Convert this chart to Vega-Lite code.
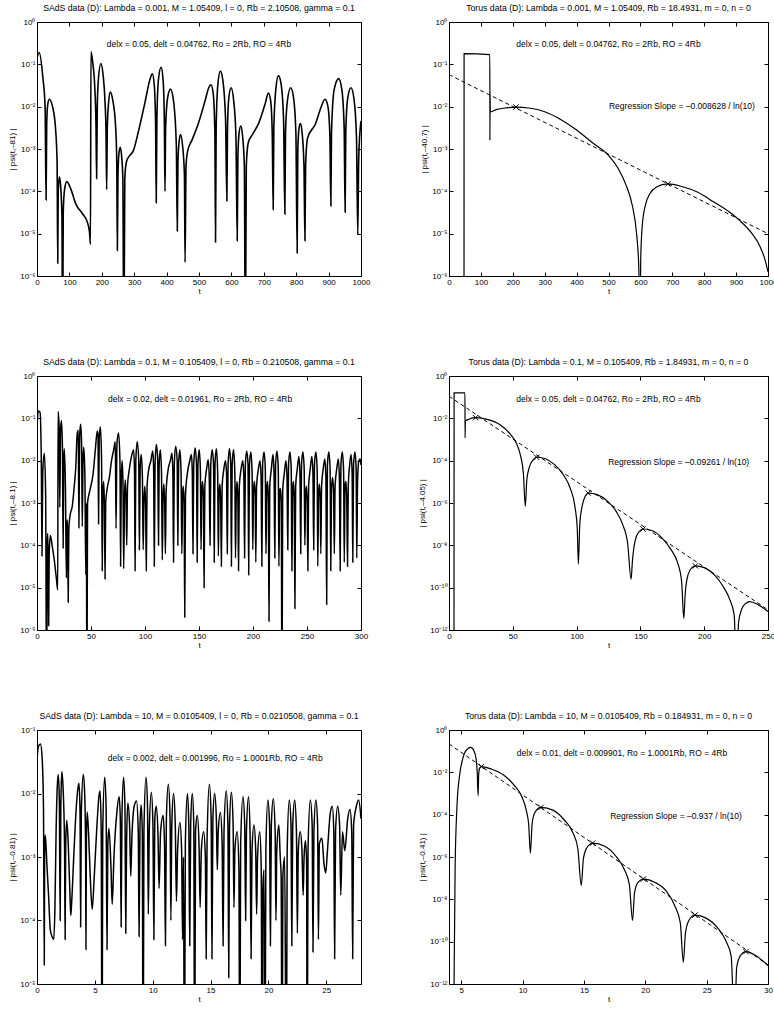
{
"$schema": "https://vega.github.io/schema/vega-lite/v6.json",
"padding": {"left": 8, "top": 3, "right": 0, "bottom": 0},
"config": {
  "font": "Liberation Sans",
  "view": {"stroke": "black", "strokeWidth": 1},
  "axis": {"domainColor": "black", "tickColor": "black", "labelColor": "black", "titleColor": "black", "labelFontSize": 8, "titleFontSize": 8, "titleFontWeight": "normal", "grid": false, "tickSize": -4, "labelPadding": 6, "labelFont": "Liberation Sans", "titleFont": "Liberation Sans", "labelFlush": false},
  "axisX": {"titlePadding": 1},
  "axisY": {"titlePadding": 3},
  "title": {"fontSize": 8.7, "fontWeight": "normal", "color": "black", "offset": 5, "font": "Liberation Sans"},
  "text": {"font": "Liberation Sans", "fontSize": 8.5, "color": "black"}
},
"bounds": "flush",
"columns": 2,
"spacing": {"row": 100, "column": 88},
"concat": [
{
 "width": 324, "height": 254,
 "title": "SAdS data (D): Lambda = 0.001, M = 1.05409, l = 0, Rb = 2.10508, gamma = 0.1",
 "layer": [
  {"data": {"values": [{"t":0,"v":0.14},{"t":7,"v":0.19},{"t":18,"v":0.05},{"t":25,"v":0.01},{"t":28,"v":6.3e-5},{"t":30,"v":4e-3},{"t":33,"v":0.011},{"t":38,"v":0.015},{"t":48,"v":0.01},{"t":57,"v":3.2e-3},{"t":62,"v":5e-4},{"t":64,"v":2e-6},{"t":65.5,"v":1e-4},{"t":69,"v":2.2e-4},{"t":73,"v":1.3e-4},{"t":77,"v":2.5e-5},{"t":79,"v":1e-8},{"t":81,"v":3.2e-5},{"t":85,"v":1.1e-4},{"t":92,"v":1.7e-4},{"t":105,"v":1.1e-4},{"t":120,"v":5e-5},{"t":140,"v":3e-5},{"t":155,"v":1.9e-5},{"t":162,"v":1.1e-5},{"t":165,"v":5.6e-6},{"t":166.5,"v":0.2},{"t":172,"v":0.11},{"t":178,"v":0.032},{"t":182,"v":4e-3},{"t":184,"v":2e-4},{"t":186,"v":0.01},{"t":190,"v":0.05},{"t":197,"v":0.105},{"t":204,"v":0.056},{"t":210,"v":0.0126},{"t":213,"v":2.5e-3},{"t":215,"v":1.1e-4},{"t":217,"v":3.2e-3},{"t":221,"v":0.0126},{"t":226,"v":0.022},{"t":234,"v":0.014},{"t":242,"v":4e-3},{"t":246,"v":6.3e-4},{"t":248,"v":4e-6},{"t":250,"v":2.5e-4},{"t":253,"v":8e-4},{"t":257,"v":1.1e-3},{"t":261,"v":7e-4},{"t":265,"v":2e-4},{"t":268,"v":1e-8},{"t":271,"v":2e-4},{"t":276,"v":5e-4},{"t":286,"v":7e-4},{"t":297,"v":9e-4},{"t":312,"v":2.4e-3},{"t":333,"v":0.0123},{"t":349,"v":0.045},{"t":356,"v":0.06},{"t":362,"v":0.032},{"t":366,"v":4e-3},{"t":368,"v":5.4e-5},{"t":370,"v":5e-3},{"t":375,"v":0.045},{"t":383,"v":0.085},{"t":389,"v":0.045},{"t":393,"v":5e-3},{"t":395,"v":1e-4},{"t":397,"v":3.2e-3},{"t":403,"v":0.016},{"t":412,"v":0.026},{"t":422,"v":0.0126},{"t":430,"v":1.26e-3},{"t":433,"v":1.15e-5},{"t":435,"v":5e-4},{"t":439,"v":1.6e-3},{"t":443,"v":2.2e-3},{"t":449,"v":1.26e-3},{"t":455,"v":2.5e-4},{"t":457,"v":2.1e-6},{"t":460,"v":4e-4},{"t":465,"v":9e-4},{"t":478,"v":1.6e-3},{"t":498,"v":4e-3},{"t":519,"v":0.014},{"t":530,"v":0.028},{"t":537,"v":0.033},{"t":544,"v":0.02},{"t":549,"v":2.5e-3},{"t":551,"v":6.3e-6},{"t":553,"v":3.2e-3},{"t":558,"v":0.032},{"t":566,"v":0.069},{"t":574,"v":0.04},{"t":582,"v":5e-3},{"t":586,"v":5.9e-5},{"t":588,"v":3.2e-3},{"t":592,"v":0.016},{"t":599,"v":0.028},{"t":607,"v":0.014},{"t":614,"v":2e-3},{"t":618,"v":6.8e-6},{"t":620,"v":6.3e-4},{"t":624,"v":2.5e-3},{"t":629,"v":3.5e-3},{"t":634,"v":2.2e-3},{"t":640,"v":4e-4},{"t":643,"v":1e-8},{"t":646,"v":4e-4},{"t":652,"v":1.4e-3},{"t":665,"v":2.2e-3},{"t":685,"v":4.2e-3},{"t":705,"v":0.0123},{"t":714,"v":0.021},{"t":721,"v":0.014},{"t":726,"v":2.5e-3},{"t":729,"v":3.7e-5},{"t":731,"v":3.2e-3},{"t":737,"v":0.025},{"t":745,"v":0.054},{"t":754,"v":0.032},{"t":761,"v":5e-3},{"t":765,"v":2.9e-5},{"t":767,"v":2.5e-3},{"t":773,"v":0.014},{"t":783,"v":0.028},{"t":792,"v":0.016},{"t":799,"v":2.5e-3},{"t":803,"v":3.5e-6},{"t":805,"v":1e-3},{"t":809,"v":3.2e-3},{"t":813,"v":4e-3},{"t":818,"v":2.5e-3},{"t":824,"v":4e-4},{"t":827,"v":6.8e-6},{"t":829,"v":4e-4},{"t":835,"v":1.8e-3},{"t":860,"v":4e-3},{"t":875,"v":8.9e-3},{"t":889,"v":0.015},{"t":898,"v":0.01},{"t":904,"v":2e-3},{"t":907,"v":4.5e-5},{"t":909,"v":2.5e-3},{"t":917,"v":0.025},{"t":931,"v":0.046},{"t":941,"v":0.025},{"t":948,"v":3.2e-3},{"t":951,"v":3.2e-5},{"t":953,"v":2.5e-3},{"t":959,"v":0.016},{"t":969,"v":0.028},{"t":978,"v":0.016},{"t":986,"v":2e-3},{"t":990,"v":9.5e-6},{"t":993,"v":6.3e-4},{"t":1000,"v":4.6e-3}]},
   "mark": {"type": "line", "color": "black", "strokeWidth": 1.6, "interpolate": "monotone", "clip": true},
   "encoding": {
    "x": {"field": "t", "type": "quantitative", "scale": {"domain": [0, 1000], "nice": false, "zero": false}, "axis": {"values": [0,100,200,300,400,500,600,700,800,900,1000], "format": "d", "title": "t"}},
    "y": {"field": "v", "type": "quantitative", "scale": {"type": "log", "domain": [1e-6, 1], "nice": false}, "axis": {"values": [1e-6,1e-5,1e-4,1e-3,1e-2,1e-1,1], "labelExpr": "'10' + (datum.value < 0.9 ? '⁻' : '') + (datum.value < 1e-9 ? '¹' : '') + substring('⁰¹²³⁴⁵⁶⁷⁸⁹', round(-log(datum.value)/LN10) % 10, round(-log(datum.value)/LN10) % 10 + 1)", "title": "| psi(t,–81) |"}}
   }},
  {"data": {"values": [{"t": 500, "v": 0.3, "s": "delx = 0.05, delt = 0.04762, Ro = 2Rb, RO = 4Rb"}]},
   "mark": {"type": "text"},
   "encoding": {
    "x": {"field": "t", "type": "quantitative", "scale": {"domain": [0, 1000], "nice": false, "zero": false}, "axis": {"orient": "top", "values": [0,100,200,300,400,500,600,700,800,900,1000], "labels": false, "title": null, "domain": false}},
    "y": {"field": "v", "type": "quantitative", "scale": {"type": "log", "domain": [1e-6, 1], "nice": false}, "axis": {"orient": "right", "values": [1e-6,1e-5,1e-4,1e-3,1e-2,1e-1,1], "labels": false, "title": null, "domain": false}},
    "text": {"field": "s"}
   }}
 ],
 "resolve": {"axis": {"x": "independent", "y": "independent"}}
},
{
 "width": 319, "height": 254,
 "title": "Torus data (D): Lambda = 0.001, M = 1.05409, Rb = 18.4931, m = 0, n = 0",
 "layer": [
  {"data": {"values": [{"t":47,"v":1e-8},{"t":47.3,"v":0.18},{"t":128,"v":0.17},{"t":128.3,"v":1.6e-3},{"t":128.7,"v":0.022},{"t":129.5,"v":7.5e-3},{"t":150,"v":8.6e-3},{"t":180,"v":9.4e-3},{"t":210,"v":9.8e-3},{"t":250,"v":9.3e-3},{"t":300,"v":7.6e-3},{"t":350,"v":5e-3},{"t":400,"v":2.8e-3},{"t":450,"v":1.4e-3},{"t":500,"v":7.1e-4},{"t":530,"v":3.5e-4},{"t":555,"v":1.4e-4},{"t":575,"v":4.5e-5},{"t":588,"v":1e-5},{"t":595,"v":1.6e-6},{"t":598,"v":1e-8},{"t":601,"v":2.5e-6},{"t":606,"v":1.6e-5},{"t":615,"v":4.5e-5},{"t":630,"v":8.9e-5},{"t":650,"v":1.26e-4},{"t":686,"v":1.5e-4},{"t":730,"v":1.3e-4},{"t":780,"v":9.5e-5},{"t":830,"v":5.6e-5},{"t":880,"v":3.2e-5},{"t":913,"v":2e-5},{"t":950,"v":1e-5},{"t":975,"v":5e-6},{"t":990,"v":2.5e-6},{"t":1000,"v":1.26e-6}]},
   "mark": {"type": "line", "color": "black", "strokeWidth": 1.2, "interpolate": "monotone", "clip": true},
   "encoding": {
    "x": {"field": "t", "type": "quantitative", "scale": {"domain": [0, 1000], "nice": false, "zero": false}, "axis": {"values": [0,100,200,300,400,500,600,700,800,900,1000], "format": "d", "title": "t"}},
    "y": {"field": "v", "type": "quantitative", "scale": {"type": "log", "domain": [1e-6, 1], "nice": false}, "axis": {"values": [1e-6,1e-5,1e-4,1e-3,1e-2,1e-1,1], "labelExpr": "'10' + (datum.value < 0.9 ? '⁻' : '') + (datum.value < 1e-9 ? '¹' : '') + substring('⁰¹²³⁴⁵⁶⁷⁸⁹', round(-log(datum.value)/LN10) % 10, round(-log(datum.value)/LN10) % 10 + 1)", "title": "| psi(t,–40.7) |"}}
   }},
  {"data": {"values": [{"t":0,"v":0.057},{"t":1000,"v":1e-5}]},
   "mark": {"type": "line", "color": "black", "strokeWidth": 1, "strokeDash": [4, 3], "clip": true},
   "encoding": {
    "x": {"field": "t", "type": "quantitative", "scale": {"domain": [0, 1000], "nice": false, "zero": false}, "axis": null},
    "y": {"field": "v", "type": "quantitative", "scale": {"type": "log", "domain": [1e-6, 1], "nice": false}, "axis": null}
   }},
  {"data": {"values": [{"t":210,"v":9.8e-3},{"t":686,"v":1.5e-4}]},
   "mark": {"type": "point", "shape": "M-1,-1L1,1M-1,1L1,-1", "size": 30, "filled": false, "color": "black", "strokeWidth": 1, "opacity": 1},
   "encoding": {
    "x": {"field": "t", "type": "quantitative", "scale": {"domain": [0, 1000], "nice": false, "zero": false}, "axis": null},
    "y": {"field": "v", "type": "quantitative", "scale": {"type": "log", "domain": [1e-6, 1], "nice": false}, "axis": null}
   }},
  {"data": {"values": [{"t": 500, "v": 0.3, "s": "delx = 0.05, delt = 0.04762, Ro = 2Rb, RO = 4Rb"},{"t": 730, "v": 0.0102, "s": "Regression Slope = –0.008628 / ln(10)"}]},
   "mark": {"type": "text"},
   "encoding": {
    "x": {"field": "t", "type": "quantitative", "scale": {"domain": [0, 1000], "nice": false, "zero": false}, "axis": {"orient": "top", "values": [0,100,200,300,400,500,600,700,800,900,1000], "labels": false, "title": null, "domain": false}},
    "y": {"field": "v", "type": "quantitative", "scale": {"type": "log", "domain": [1e-6, 1], "nice": false}, "axis": {"orient": "right", "values": [1e-6,1e-5,1e-4,1e-3,1e-2,1e-1,1], "labels": false, "title": null, "domain": false}},
    "text": {"field": "s"}
   }}
 ],
 "resolve": {"axis": {"x": "independent", "y": "independent"}}
},
{
 "width": 324, "height": 254,
 "title": "SAdS data (D): Lambda = 0.1, M = 0.105409, l = 0, Rb = 0.210508, gamma = 0.1",
 "layer": [
  {"data": {"values": [{"t":0,"v":6.3e-2},{"t":1.2,"v":0.15},{"t":2.8,"v":0.14},{"t":4.0,"v":1e-2},{"t":4.6,"v":5.6e-5},{"t":5.3,"v":5e-3},{"t":6.8,"v":1.5e-2},{"t":8.0,"v":1.6e-3},{"t":8.9,"v":1e-8},{"t":9.5,"v":1e-4},{"t":9.9,"v":1.9e-4},{"t":10.4,"v":4e-5},{"t":10.8,"v":1.26e-6},{"t":11.3,"v":6.3e-5},{"t":12.4,"v":1.7e-4},{"t":14,"v":1e-4},{"t":16,"v":4.5e-5},{"t":18,"v":1.6e-5},{"t":19.2,"v":8.9e-6},{"t":19.5,"v":0.145},{"t":20.5,"v":6.3e-2},{"t":21.1,"v":7.9e-4},{"t":21.8,"v":5e-2},{"t":22.6,"v":8.9e-2},{"t":23.5,"v":2.5e-2},{"t":24.2,"v":8.7e-5},{"t":24.7,"v":1e-2},{"t":25.3,"v":1.9e-2},{"t":26.3,"v":2.5e-3},{"t":27.2,"v":1.7e-5},{"t":27.8,"v":4e-4},{"t":28.3,"v":2.5e-4},{"t":28.9,"v":4.5e-6},{"t":29.5,"v":2.5e-4},{"t":30.6,"v":5e-4},{"t":32.7,"v":8.5e-4},{"t":34.5,"v":2.5e-3},{"t":35.8,"v":6.3e-3},{"t":37.3,"v":4.5e-2},{"t":38.2,"v":5.2e-2},{"t":38.8,"v":2.6e-4},{"t":39.5,"v":4e-2},{"t":40.4,"v":7.2e-2},{"t":41.3,"v":2.5e-2},{"t":41.9,"v":2.8e-4},{"t":42.6,"v":1e-2},{"t":43.3,"v":2.1e-2},{"t":44.3,"v":5e-3},{"t":45.2,"v":2e-5},{"t":45.7,"v":1e-3},{"t":46.2,"v":1e-8},{"t":46.8,"v":1e-3},{"t":49,"v":2e-3},{"t":52,"v":5e-3},{"t":54,"v":1.8e-2},{"t":55.8,"v":5e-2},{"t":56.5,"v":4e-2},{"t":57.0,"v":3.2e-4},{"t":57.6,"v":3.2e-2},{"t":58.7,"v":6.3e-2},{"t":59.8,"v":1e-2},{"t":60.4,"v":2.5e-5},{"t":61.0,"v":1.6e-3},{"t":61.7,"v":3.2e-3},{"t":62.4,"v":1e-3},{"t":63.0,"v":1.6e-5},{"t":63.6,"v":1e-3},{"t":65,"v":2.2e-3},{"t":67,"v":4e-3},{"t":69,"v":1e-2},{"t":71,"v":1.8e-2},{"t":72.5,"v":2.8e-2},{"t":73.2,"v":2.5e-4},{"t":74,"v":2.5e-2},{"t":75.5,"v":4.5e-2},{"t":76.8,"v":1e-2},{"t":77.4,"v":3.2e-5},{"t":78.0,"v":3.2e-3},{"t":78.8,"v":1e-2},{"t":79.6,"v":3.2e-3},{"t":80.3,"v":2.8e-5},{"t":81,"v":1.26e-3},{"t":81.7,"v":3.5e-3},{"t":82.5,"v":1e-3},{"t":83.1,"v":1e-4},{"t":83.8,"v":2.5e-3},{"t":85.5,"v":6.3e-3},{"t":87.5,"v":1.26e-2},{"t":89.5,"v":1.8e-2},{"t":90.3,"v":5e-3},{"t":90.8,"v":2.5e-5},{"t":91.5,"v":1e-2},{"t":92.8,"v":2.8e-2},{"t":94.2,"v":1e-2},{"t":94.8,"v":7.9e-5},{"t":95.5,"v":6.3e-3},{"t":96.5,"v":1.4e-2},{"t":97.6,"v":4e-3},{"t":98.3,"v":7.9e-5},{"t":99.0,"v":1e-3},{"t":99.8,"v":2.5e-3},{"t":100.6,"v":7.9e-4},{"t":101.2,"v":2.5e-5},{"t":101.9,"v":2.5e-3},{"t":103.5,"v":6.3e-3},{"t":105.5,"v":1e-2},{"t":107.2,"v":1.7e-2},{"t":108.0,"v":6.3e-3},{"t":108.6,"v":3.2e-5},{"t":109.3,"v":7.9e-3},{"t":110.5,"v":2.4e-2},{"t":111.8,"v":1e-2},{"t":112.5,"v":1e-4},{"t":113.1,"v":7.9e-3},{"t":114.2,"v":1.8e-2},{"t":115.3,"v":5e-3},{"t":116.0,"v":4.5e-5},{"t":116.7,"v":1.26e-3},{"t":117.4,"v":2.8e-3},{"t":118.2,"v":1e-3},{"t":118.9,"v":6.3e-5},{"t":119.6,"v":2e-3},{"t":121.5,"v":6.3e-3},{"t":123.5,"v":1e-2},{"t":125,"v":1.5e-2},{"t":125.8,"v":5e-3},{"t":126.4,"v":4e-5},{"t":127.1,"v":7.9e-3},{"t":128.4,"v":2.2e-2},{"t":129.8,"v":1e-2},{"t":130.4,"v":1e-4},{"t":131.1,"v":7.9e-3},{"t":132.3,"v":1.8e-2},{"t":133.4,"v":5e-3},{"t":134.1,"v":6.3e-5},{"t":134.8,"v":1.6e-3},{"t":135.4,"v":2.5e-3},{"t":136.2,"v":1e-3},{"t":136.8,"v":2e-6},{"t":137.5,"v":1.6e-3},{"t":139.5,"v":5.6e-3},{"t":141.5,"v":1e-2},{"t":143,"v":1.4e-2},{"t":143.8,"v":5e-3},{"t":144.4,"v":6.3e-5},{"t":145.1,"v":7.9e-3},{"t":146.4,"v":2e-2},{"t":147.7,"v":7.9e-3},{"t":148.3,"v":4e-5},{"t":149.0,"v":7.9e-3},{"t":150.2,"v":1.8e-2},{"t":151.3,"v":5.6e-3},{"t":151.9,"v":7.9e-5},{"t":152.6,"v":2e-3},{"t":153.3,"v":3.2e-3},{"t":154.1,"v":1.26e-3},{"t":154.7,"v":1e-5},{"t":155.4,"v":2.5e-3},{"t":157,"v":6.3e-3},{"t":158.5,"v":1.05e-2},{"t":159.5,"v":4e-3},{"t":160.2,"v":1e-4},{"t":160.9,"v":7.9e-3},{"t":162.2,"v":1.8e-2},{"t":163.5,"v":7.9e-3},{"t":164.1,"v":4e-5},{"t":164.8,"v":7.9e-3},{"t":166.1,"v":1.9e-2},{"t":167.3,"v":5e-3},{"t":167.9,"v":5.6e-5},{"t":168.6,"v":1.6e-3},{"t":169.3,"v":2.8e-3},{"t":170.1,"v":1e-3},{"t":170.7,"v":3.2e-5},{"t":171.4,"v":2.5e-3},{"t":173,"v":6.3e-3},{"t":174.5,"v":1e-2},{"t":175.5,"v":5e-3},{"t":176.2,"v":6.3e-5},{"t":176.9,"v":7.9e-3},{"t":178.2,"v":1.9e-2},{"t":179.4,"v":7.9e-3},{"t":180.0,"v":3.2e-5},{"t":180.7,"v":7.9e-3},{"t":182.0,"v":1.8e-2},{"t":183.2,"v":5e-3},{"t":183.8,"v":5e-5},{"t":184.5,"v":1.6e-3},{"t":185.2,"v":3.2e-3},{"t":186.0,"v":1.26e-3},{"t":186.6,"v":2.5e-5},{"t":187.3,"v":2.5e-3},{"t":189,"v":6.3e-3},{"t":190.5,"v":1e-2},{"t":191.5,"v":4.5e-3},{"t":192.2,"v":5e-5},{"t":192.9,"v":7.9e-3},{"t":194.2,"v":1.7e-2},{"t":195.4,"v":7.9e-3},{"t":196.0,"v":2e-5},{"t":196.7,"v":7.9e-3},{"t":198.0,"v":1.6e-2},{"t":199.2,"v":5e-3},{"t":199.8,"v":7.9e-5},{"t":200.5,"v":2e-3},{"t":201.3,"v":3.2e-3},{"t":202.0,"v":1.6e-3},{"t":202.6,"v":4e-5},{"t":203.3,"v":2.5e-3},{"t":205,"v":6.3e-3},{"t":206.5,"v":1e-2},{"t":207.5,"v":4e-3},{"t":208.2,"v":3.2e-5},{"t":208.9,"v":7.9e-3},{"t":210.2,"v":1.6e-2},{"t":211.4,"v":6.3e-3},{"t":212.0,"v":6.3e-5},{"t":212.7,"v":2e-3},{"t":213.4,"v":3.2e-3},{"t":214.2,"v":1.26e-3},{"t":214.8,"v":1.6e-6},{"t":215.5,"v":2.5e-3},{"t":217,"v":6.3e-3},{"t":218.5,"v":1.4e-2},{"t":219.5,"v":5e-3},{"t":220.2,"v":5e-5},{"t":220.9,"v":7.9e-3},{"t":222.2,"v":1.7e-2},{"t":223.4,"v":6.3e-3},{"t":224.0,"v":3.2e-5},{"t":224.7,"v":2e-3},{"t":225.4,"v":2.2e-3},{"t":226.2,"v":1e-3},{"t":226.8,"v":1e-8},{"t":227.5,"v":2e-3},{"t":229,"v":5e-3},{"t":230.5,"v":1e-2},{"t":231.5,"v":4e-3},{"t":232.2,"v":7.9e-5},{"t":232.9,"v":7.9e-3},{"t":234.2,"v":1.6e-2},{"t":235.4,"v":6.3e-3},{"t":236.0,"v":2.5e-5},{"t":236.7,"v":2e-3},{"t":237.4,"v":3.2e-3},{"t":238.2,"v":1.26e-3},{"t":238.8,"v":3.2e-6},{"t":239.5,"v":2.5e-3},{"t":241,"v":6.3e-3},{"t":242.5,"v":1.26e-2},{"t":243.5,"v":4.5e-3},{"t":244.2,"v":6.3e-5},{"t":244.9,"v":7.9e-3},{"t":246.2,"v":1.6e-2},{"t":247.4,"v":6.3e-3},{"t":248.0,"v":1e-4},{"t":248.7,"v":1.6e-3},{"t":249.4,"v":2.5e-3},{"t":250.2,"v":1e-3},{"t":250.8,"v":2.5e-5},{"t":251.5,"v":2.5e-3},{"t":253,"v":6.3e-3},{"t":254.5,"v":1.26e-2},{"t":255.5,"v":5e-3},{"t":256.2,"v":7.9e-5},{"t":256.9,"v":7.9e-3},{"t":258.2,"v":1.6e-2},{"t":259.4,"v":6.3e-3},{"t":260.0,"v":3.2e-5},{"t":260.7,"v":1.6e-3},{"t":261.4,"v":2.8e-3},{"t":262.2,"v":1.26e-3},{"t":262.8,"v":6.3e-5},{"t":263.5,"v":2.5e-3},{"t":265,"v":6.3e-3},{"t":266.5,"v":1.1e-2},{"t":267.5,"v":4e-3},{"t":268.2,"v":4e-6},{"t":268.9,"v":7.9e-3},{"t":270.2,"v":1.6e-2},{"t":271.4,"v":6.3e-3},{"t":272.0,"v":2.5e-5},{"t":272.7,"v":2e-3},{"t":273.6,"v":4e-3},{"t":274.6,"v":2e-3},{"t":275.3,"v":6.3e-5},{"t":276.0,"v":2.5e-3},{"t":277.5,"v":6.3e-3},{"t":279,"v":1.1e-2},{"t":280,"v":4e-3},{"t":280.7,"v":2.5e-5},{"t":281.4,"v":7.9e-3},{"t":282.7,"v":1.6e-2},{"t":283.9,"v":5.6e-3},{"t":284.5,"v":4e-5},{"t":285.2,"v":2.5e-3},{"t":286.0,"v":3.2e-3},{"t":286.8,"v":1.26e-3},{"t":287.5,"v":3.2e-5},{"t":288.2,"v":2.5e-3},{"t":289.5,"v":7.9e-3},{"t":290.8,"v":1.4e-2},{"t":291.8,"v":5e-3},{"t":292.4,"v":4e-5},{"t":293.1,"v":7.9e-3},{"t":294.4,"v":1.6e-2},{"t":295.5,"v":6.3e-3},{"t":296.1,"v":5e-5},{"t":296.8,"v":3.2e-3},{"t":298,"v":1e-2},{"t":299.2,"v":1.1e-2},{"t":300,"v":7.9e-3}]},
   "mark": {"type": "line", "color": "black", "strokeWidth": 1.5, "interpolate": "monotone", "clip": true},
   "encoding": {
    "x": {"field": "t", "type": "quantitative", "scale": {"domain": [0, 300], "nice": false, "zero": false}, "axis": {"values": [0,50,100,150,200,250,300], "format": "d", "title": "t"}},
    "y": {"field": "v", "type": "quantitative", "scale": {"type": "log", "domain": [1e-6, 1], "nice": false}, "axis": {"values": [1e-6,1e-5,1e-4,1e-3,1e-2,1e-1,1], "labelExpr": "'10' + (datum.value < 0.9 ? '⁻' : '') + (datum.value < 1e-9 ? '¹' : '') + substring('⁰¹²³⁴⁵⁶⁷⁸⁹', round(-log(datum.value)/LN10) % 10, round(-log(datum.value)/LN10) % 10 + 1)", "title": "| psi(t,–8.1) |"}}
   }},
  {"data": {"values": [{"t": 151, "v": 0.28, "s": "delx = 0.02, delt = 0.01961, Ro = 2Rb, RO = 4Rb"}]},
   "mark": {"type": "text"},
   "encoding": {
    "x": {"field": "t", "type": "quantitative", "scale": {"domain": [0, 300], "nice": false, "zero": false}, "axis": {"orient": "top", "values": [0,50,100,150,200,250,300], "labels": false, "title": null, "domain": false}},
    "y": {"field": "v", "type": "quantitative", "scale": {"type": "log", "domain": [1e-6, 1], "nice": false}, "axis": {"orient": "right", "values": [1e-6,1e-5,1e-4,1e-3,1e-2,1e-1,1], "labels": false, "title": null, "domain": false}},
    "text": {"field": "s"}
   }}
 ],
 "resolve": {"axis": {"x": "independent", "y": "independent"}}
},
{
 "width": 319, "height": 254,
 "title": "Torus data (D): Lambda = 0.1, M = 0.105409, Rb = 1.84931, m = 0, n = 0",
 "layer": [
  {"data": {"values": [{"t":3.9,"v":1e-14},{"t":4.0,"v":0.16},{"t":12.5,"v":0.16},{"t":12.6,"v":1.2e-3},{"t":12.8,"v":7.4e-3},{"t":16,"v":9.3e-3},{"t":20.8,"v":0.0107},{"t":30,"v":8.9e-3},{"t":40,"v":5e-3},{"t":48,"v":1.8e-3},{"t":53,"v":6.3e-4},{"t":56,"v":1.8e-4},{"t":58.3,"v":2.5e-5},{"t":59.8,"v":6.9e-7},{"t":61,"v":1.26e-5},{"t":63,"v":5e-5},{"t":66,"v":1.1e-4},{"t":68.6,"v":1.45e-4},{"t":75,"v":1.26e-4},{"t":83,"v":6.3e-5},{"t":90,"v":2e-5},{"t":95,"v":5e-6},{"t":98.5,"v":7.9e-7},{"t":100.5,"v":6.3e-8},{"t":101.4,"v":1.3e-9},{"t":102.5,"v":1e-7},{"t":104.5,"v":7.9e-7},{"t":107,"v":2.2e-6},{"t":109.1,"v":2.95e-6},{"t":116,"v":2.5e-6},{"t":124,"v":1.26e-6},{"t":131,"v":4e-7},{"t":136,"v":1e-7},{"t":140,"v":1.26e-8},{"t":142.7,"v":2.5e-10},{"t":143.8,"v":2e-9},{"t":145.8,"v":1.6e-8},{"t":149,"v":4.5e-8},{"t":152,"v":5.9e-8},{"t":159,"v":5e-8},{"t":167,"v":2.2e-8},{"t":174,"v":6.3e-9},{"t":179,"v":1.6e-9},{"t":182.3,"v":2e-10},{"t":184,"v":3.5e-12},{"t":185.1,"v":5e-11},{"t":187.3,"v":4e-10},{"t":190.3,"v":8.9e-10},{"t":193.1,"v":1.07e-9},{"t":200,"v":8.9e-10},{"t":208,"v":4e-10},{"t":215,"v":1.1e-10},{"t":220,"v":2.8e-11},{"t":223.5,"v":5e-12},{"t":225.3,"v":1e-14},{"t":227,"v":2.5e-12},{"t":229.5,"v":1e-11},{"t":232.5,"v":1.8e-11},{"t":235.7,"v":2.2e-11},{"t":242,"v":1.6e-11},{"t":250,"v":7.4e-12}]},
   "mark": {"type": "line", "color": "black", "strokeWidth": 1.2, "interpolate": "monotone", "clip": true},
   "encoding": {
    "x": {"field": "t", "type": "quantitative", "scale": {"domain": [0, 250], "nice": false, "zero": false}, "axis": {"values": [0,50,100,150,200,250], "format": "d", "title": "t"}},
    "y": {"field": "v", "type": "quantitative", "scale": {"type": "log", "domain": [1e-12, 1], "nice": false}, "axis": {"values": [1e-12,1e-10,1e-8,1e-6,1e-4,1e-2,1], "labelExpr": "'10' + (datum.value < 0.9 ? '⁻' : '') + (datum.value < 1e-9 ? '¹' : '') + substring('⁰¹²³⁴⁵⁶⁷⁸⁹', round(-log(datum.value)/LN10) % 10, round(-log(datum.value)/LN10) % 10 + 1)", "title": "| psi(t,–4.05) |"}}
   }},
  {"data": {"values": [{"t":0,"v":0.11},{"t":250,"v":9e-12}]},
   "mark": {"type": "line", "color": "black", "strokeWidth": 1, "strokeDash": [4, 3], "clip": true},
   "encoding": {
    "x": {"field": "t", "type": "quantitative", "scale": {"domain": [0, 250], "nice": false, "zero": false}, "axis": null},
    "y": {"field": "v", "type": "quantitative", "scale": {"type": "log", "domain": [1e-12, 1], "nice": false}, "axis": null}
   }},
  {"data": {"values": [{"t":20.8,"v":0.0107},{"t":68.6,"v":1.45e-4},{"t":109.1,"v":2.95e-6},{"t":152,"v":5.9e-8},{"t":193.1,"v":1.07e-9}]},
   "mark": {"type": "point", "shape": "M-1,-1L1,1M-1,1L1,-1", "size": 30, "filled": false, "color": "black", "strokeWidth": 1, "opacity": 1},
   "encoding": {
    "x": {"field": "t", "type": "quantitative", "scale": {"domain": [0, 250], "nice": false, "zero": false}, "axis": null},
    "y": {"field": "v", "type": "quantitative", "scale": {"type": "log", "domain": [1e-12, 1], "nice": false}, "axis": null}
   }},
  {"data": {"values": [{"t": 125, "v": 0.079, "s": "delx = 0.05, delt = 0.04762, Ro = 2Rb, RO = 4Rb"},{"t": 180, "v": 8.5e-5, "s": "Regression Slope = –0.09261 / ln(10)"}]},
   "mark": {"type": "text"},
   "encoding": {
    "x": {"field": "t", "type": "quantitative", "scale": {"domain": [0, 250], "nice": false, "zero": false}, "axis": {"orient": "top", "values": [0,50,100,150,200,250], "labels": false, "title": null, "domain": false}},
    "y": {"field": "v", "type": "quantitative", "scale": {"type": "log", "domain": [1e-12, 1], "nice": false}, "axis": {"orient": "right", "values": [1e-12,1e-10,1e-8,1e-6,1e-4,1e-2,1], "labels": false, "title": null, "domain": false}},
    "text": {"field": "s"}
   }}
 ],
 "resolve": {"axis": {"x": "independent", "y": "independent"}}
},
{
 "width": 324, "height": 254,
 "title": "SAdS data (D): Lambda = 10, M = 0.0105409, l = 0, Rb = 0.0210508, gamma = 0.1",
 "layer": [
  {"data": {"values": [{"t":0,"v":3.5e-2},{"t":0.12,"v":5.5e-2},{"t":0.3,"v":6e-2},{"t":0.45,"v":3.5e-2},{"t":0.56,"v":6e-3},{"t":0.63,"v":2e-5},{"t":0.66,"v":1.6e-3},{"t":0.72,"v":2.2e-3},{"t":0.85,"v":7.9e-4},{"t":1.0,"v":2.5e-4},{"t":1.15,"v":7.1e-5},{"t":1.3,"v":5.6e-5},{"t":1.45,"v":5e-5},{"t":1.55,"v":1.6e-4},{"t":1.65,"v":2.5e-3},{"t":1.75,"v":1.26e-2},{"t":1.84,"v":2e-2},{"t":1.93,"v":7.9e-3},{"t":2.0,"v":1e-4},{"t":2.06,"v":6.3e-3},{"t":2.14,"v":2.2e-2},{"t":2.25,"v":1.26e-2},{"t":2.38,"v":1.6e-3},{"t":2.43,"v":5e-5},{"t":2.48,"v":1.6e-3},{"t":2.57,"v":3.8e-3},{"t":2.7,"v":1.6e-3},{"t":2.85,"v":2.5e-4},{"t":2.92,"v":1.2e-4},{"t":3.0,"v":2e-4},{"t":3.2,"v":1.26e-3},{"t":3.4,"v":6.3e-3},{"t":3.55,"v":1.26e-2},{"t":3.63,"v":1.45e-2},{"t":3.72,"v":5e-3},{"t":3.77,"v":7.9e-5},{"t":3.83,"v":5e-3},{"t":4.0,"v":2e-2},{"t":4.12,"v":1e-2},{"t":4.2,"v":1.26e-3},{"t":4.23,"v":3.5e-5},{"t":4.27,"v":2e-3},{"t":4.34,"v":5.1e-3},{"t":4.45,"v":2.5e-3},{"t":4.6,"v":5e-4},{"t":4.77,"v":1.5e-4},{"t":4.95,"v":5e-4},{"t":5.15,"v":2.5e-3},{"t":5.35,"v":8.9e-3},{"t":5.45,"v":1.1e-2},{"t":5.55,"v":2.5e-3},{"t":5.62,"v":1e-7},{"t":5.68,"v":2.5e-3},{"t":5.85,"v":1.8e-2},{"t":5.97,"v":6.3e-3},{"t":6.05,"v":3.5e-5},{"t":6.12,"v":1.6e-3},{"t":6.22,"v":2.8e-3},{"t":6.4,"v":6.3e-4},{"t":6.5,"v":1.8e-4},{"t":6.65,"v":1e-3},{"t":6.9,"v":5e-3},{"t":7.1,"v":8.9e-3},{"t":7.2,"v":4e-3},{"t":7.27,"v":7.9e-5},{"t":7.34,"v":4e-3},{"t":7.48,"v":1.8e-2},{"t":7.6,"v":6.3e-3},{"t":7.67,"v":6.3e-5},{"t":7.74,"v":1.6e-3},{"t":7.85,"v":7.1e-3},{"t":8.0,"v":3.2e-3},{"t":8.1,"v":5e-4},{"t":8.2,"v":2e-3},{"t":8.4,"v":6.3e-3},{"t":8.6,"v":7.6e-3},{"t":8.75,"v":2.5e-3},{"t":8.82,"v":5.6e-5},{"t":8.9,"v":3.2e-3},{"t":9.0,"v":6.6e-3},{"t":9.1,"v":2.5e-3},{"t":9.17,"v":1e-7},{"t":9.24,"v":2.5e-3},{"t":9.42,"v":1.8e-2},{"t":9.55,"v":6.3e-3},{"t":9.62,"v":1.26e-4},{"t":9.7,"v":2.5e-3},{"t":9.88,"v":1.05e-2},{"t":10.02,"v":3.2e-3},{"t":10.1,"v":5e-5},{"t":10.18,"v":4e-3},{"t":10.3,"v":6.3e-3},{"t":10.45,"v":2.5e-3},{"t":10.55,"v":3.2e-4},{"t":10.68,"v":2.5e-3},{"t":10.9,"v":4.5e-3},{"t":11.02,"v":1.6e-3},{"t":11.1,"v":4e-5},{"t":11.18,"v":4e-3},{"t":11.35,"v":1.4e-2},{"t":11.5,"v":4e-3},{"t":11.57,"v":1e-4},{"t":11.65,"v":3.2e-3},{"t":11.8,"v":1e-2},{"t":11.95,"v":3.2e-3},{"t":12.05,"v":2e-4},{"t":12.15,"v":1.26e-3},{"t":12.35,"v":3.5e-3},{"t":12.5,"v":1.26e-3},{"t":12.58,"v":5e-5},{"t":12.66,"v":1e-3},{"t":12.74,"v":1e-7},{"t":12.82,"v":1.6e-3},{"t":13.0,"v":1e-2},{"t":13.12,"v":3.2e-3},{"t":13.2,"v":4e-5},{"t":13.28,"v":3.2e-3},{"t":13.42,"v":1e-2},{"t":13.55,"v":3.2e-3},{"t":13.62,"v":1e-7},{"t":13.7,"v":2.5e-3},{"t":13.85,"v":4.5e-3},{"t":14.0,"v":1.6e-3},{"t":14.1,"v":1.6e-4},{"t":14.2,"v":1.26e-3},{"t":14.4,"v":2.5e-3},{"t":14.55,"v":1e-3},{"t":14.62,"v":2.5e-5},{"t":14.7,"v":2e-3},{"t":14.9,"v":1.4e-2},{"t":15.05,"v":4e-3},{"t":15.12,"v":2.5e-5},{"t":15.2,"v":4e-3},{"t":15.35,"v":1e-2},{"t":15.5,"v":4e-3},{"t":15.58,"v":6.3e-4},{"t":15.66,"v":2.5e-3},{"t":15.85,"v":5e-3},{"t":16.0,"v":1.6e-3},{"t":16.08,"v":4e-5},{"t":16.16,"v":2.5e-3},{"t":16.35,"v":1.1e-2},{"t":16.5,"v":3.2e-3},{"t":16.57,"v":1.26e-5},{"t":16.64,"v":3.2e-3},{"t":16.8,"v":1.05e-2},{"t":16.95,"v":3.2e-3},{"t":17.02,"v":1.6e-4},{"t":17.1,"v":1.26e-3},{"t":17.3,"v":2.5e-3},{"t":17.45,"v":6.3e-4},{"t":17.52,"v":1e-7},{"t":17.6,"v":1.6e-3},{"t":17.8,"v":8.9e-3},{"t":17.95,"v":3.2e-3},{"t":18.03,"v":1e-4},{"t":18.1,"v":2.5e-3},{"t":18.28,"v":8.9e-3},{"t":18.42,"v":2e-3},{"t":18.5,"v":2.5e-5},{"t":18.58,"v":1.26e-3},{"t":18.75,"v":3.2e-3},{"t":18.9,"v":1.26e-3},{"t":18.98,"v":1.26e-4},{"t":19.06,"v":1e-3},{"t":19.25,"v":2.5e-3},{"t":19.38,"v":6.3e-4},{"t":19.45,"v":1e-7},{"t":19.52,"v":3.2e-4},{"t":19.62,"v":6.3e-4},{"t":19.7,"v":1e-7},{"t":19.78,"v":1.26e-3},{"t":19.95,"v":7.9e-3},{"t":20.1,"v":3.2e-3},{"t":20.17,"v":4e-5},{"t":20.25,"v":3.2e-3},{"t":20.42,"v":8.3e-3},{"t":20.58,"v":2.5e-3},{"t":20.65,"v":1e-4},{"t":20.72,"v":1.26e-3},{"t":20.9,"v":3.2e-3},{"t":21.02,"v":1e-3},{"t":21.1,"v":5e-4},{"t":21.18,"v":1e-7},{"t":21.25,"v":5e-4},{"t":21.4,"v":1e-3},{"t":21.55,"v":1e-7},{"t":21.62,"v":1.26e-3},{"t":21.8,"v":7.9e-3},{"t":21.95,"v":3.2e-3},{"t":22.02,"v":4e-5},{"t":22.1,"v":3.2e-3},{"t":22.27,"v":7.9e-3},{"t":22.42,"v":2.5e-3},{"t":22.5,"v":6.3e-5},{"t":22.58,"v":1.26e-3},{"t":22.75,"v":2.5e-3},{"t":22.9,"v":1.26e-3},{"t":23.0,"v":2.5e-4},{"t":23.08,"v":1e-3},{"t":23.2,"v":1.8e-3},{"t":23.3,"v":7.9e-4},{"t":23.35,"v":1e-7},{"t":23.42,"v":1.26e-3},{"t":23.62,"v":7.9e-3},{"t":23.78,"v":3.2e-3},{"t":23.85,"v":3.2e-5},{"t":23.93,"v":2.5e-3},{"t":24.1,"v":7.9e-3},{"t":24.25,"v":3.2e-3},{"t":24.32,"v":5e-5},{"t":24.4,"v":1.6e-3},{"t":24.62,"v":2e-3},{"t":24.8,"v":7.9e-4},{"t":24.95,"v":5.6e-4},{"t":25.1,"v":1.26e-3},{"t":25.35,"v":5e-3},{"t":25.52,"v":6.3e-3},{"t":25.65,"v":2.5e-3},{"t":25.72,"v":2.5e-5},{"t":25.8,"v":2.5e-3},{"t":25.98,"v":6.3e-3},{"t":26.15,"v":3.2e-3},{"t":26.25,"v":2.5e-4},{"t":26.4,"v":2.5e-3},{"t":26.6,"v":1.26e-3},{"t":26.85,"v":4e-3},{"t":27.05,"v":5.6e-3},{"t":27.2,"v":2.5e-3},{"t":27.28,"v":2.5e-5},{"t":27.36,"v":3.2e-3},{"t":27.6,"v":6.3e-3},{"t":27.8,"v":7.9e-3},{"t":28,"v":4e-3}]},
   "mark": {"type": "line", "color": "black", "strokeWidth": 1.5, "interpolate": "monotone", "clip": true},
   "encoding": {
    "x": {"field": "t", "type": "quantitative", "scale": {"domain": [0, 28], "nice": false, "zero": false}, "axis": {"values": [0,5,10,15,20,25], "format": "d", "title": "t"}},
    "y": {"field": "v", "type": "quantitative", "scale": {"type": "log", "domain": [1e-5, 0.1], "nice": false}, "axis": {"values": [1e-5,1e-4,1e-3,1e-2,1e-1], "labelExpr": "'10' + (datum.value < 0.9 ? '⁻' : '') + (datum.value < 1e-9 ? '¹' : '') + substring('⁰¹²³⁴⁵⁶⁷⁸⁹', round(-log(datum.value)/LN10) % 10, round(-log(datum.value)/LN10) % 10 + 1)", "title": "| psi(t,–0.81) |"}}
   }},
  {"data": {"values": [{"t": 15.4, "v": 0.036, "s": "delx = 0.002, delt = 0.001996, Ro = 1.0001Rb, RO = 4Rb"}]},
   "mark": {"type": "text"},
   "encoding": {
    "x": {"field": "t", "type": "quantitative", "scale": {"domain": [0, 28], "nice": false, "zero": false}, "axis": {"orient": "top", "values": [0,5,10,15,20,25], "labels": false, "title": null, "domain": false}},
    "y": {"field": "v", "type": "quantitative", "scale": {"type": "log", "domain": [1e-5, 0.1], "nice": false}, "axis": {"orient": "right", "values": [1e-5,1e-4,1e-3,1e-2,1e-1], "labels": false, "title": null, "domain": false}},
    "text": {"field": "s"}
   }}
 ],
 "resolve": {"axis": {"x": "independent", "y": "independent"}}
},
{
 "width": 319, "height": 254,
 "title": "Torus data (D): Lambda = 10, M = 0.0105409, Rb = 0.184931, m = 0, n = 0",
 "layer": [
  {"data": {"values": [{"t":4.38,"v":1e-14},{"t":4.5,"v":3.2e-7},{"t":4.65,"v":2.5e-4},{"t":4.85,"v":6.3e-3},{"t":5.1,"v":0.04},{"t":5.4,"v":0.11},{"t":5.77,"v":0.15},{"t":6.05,"v":0.1},{"t":6.2,"v":0.045},{"t":6.3,"v":0.01},{"t":6.37,"v":7.9e-4},{"t":6.42,"v":7.9e-3},{"t":6.5,"v":0.0158},{"t":6.64,"v":0.0186},{"t":7.5,"v":0.014},{"t":8.5,"v":7.1e-3},{"t":9.3,"v":2.5e-3},{"t":9.9,"v":7.9e-4},{"t":10.3,"v":1.6e-4},{"t":10.5,"v":3.2e-5},{"t":10.63,"v":1.5e-6},{"t":10.78,"v":4e-5},{"t":11.0,"v":1.26e-4},{"t":11.5,"v":2.2e-4},{"t":12.5,"v":1.6e-4},{"t":13.4,"v":5.6e-5},{"t":14.1,"v":1.4e-5},{"t":14.5,"v":2.5e-6},{"t":14.78,"v":4.5e-8},{"t":14.95,"v":7.9e-7},{"t":15.2,"v":2.5e-6},{"t":15.7,"v":4.5e-6},{"t":16.7,"v":3.2e-6},{"t":17.6,"v":1.1e-6},{"t":18.3,"v":2.5e-7},{"t":18.7,"v":5e-8},{"t":18.96,"v":1e-9},{"t":19.12,"v":2e-8},{"t":19.4,"v":6.3e-8},{"t":19.84,"v":9.1e-8},{"t":20.8,"v":6.3e-8},{"t":21.7,"v":2.5e-8},{"t":22.4,"v":5e-9},{"t":22.85,"v":7.9e-10},{"t":23.1,"v":1.05e-11},{"t":23.27,"v":2.5e-10},{"t":23.55,"v":1e-9},{"t":24.04,"v":1.8e-9},{"t":25.0,"v":1.26e-9},{"t":25.9,"v":4.5e-10},{"t":26.6,"v":1e-10},{"t":27.0,"v":2e-11},{"t":27.27,"v":1e-14},{"t":27.45,"v":6.3e-12},{"t":27.75,"v":2.2e-11},{"t":28.2,"v":3.4e-11},{"t":29.0,"v":2.2e-11},{"t":30.0,"v":7.4e-12}]},
   "mark": {"type": "line", "color": "black", "strokeWidth": 1.2, "interpolate": "monotone", "clip": true},
   "encoding": {
    "x": {"field": "t", "type": "quantitative", "scale": {"domain": [4, 30], "nice": false, "zero": false}, "axis": {"values": [5,10,15,20,25,30], "format": "d", "title": "t"}},
    "y": {"field": "v", "type": "quantitative", "scale": {"type": "log", "domain": [1e-12, 1], "nice": false}, "axis": {"values": [1e-12,1e-10,1e-8,1e-6,1e-4,1e-2,1], "labelExpr": "'10' + (datum.value < 0.9 ? '⁻' : '') + (datum.value < 1e-9 ? '¹' : '') + substring('⁰¹²³⁴⁵⁶⁷⁸⁹', round(-log(datum.value)/LN10) % 10, round(-log(datum.value)/LN10) % 10 + 1)", "title": "| psi(t,–0.41) |"}}
   }},
  {"data": {"values": [{"t":4,"v":0.22},{"t":30,"v":8e-12}]},
   "mark": {"type": "line", "color": "black", "strokeWidth": 1, "strokeDash": [4, 3], "clip": true},
   "encoding": {
    "x": {"field": "t", "type": "quantitative", "scale": {"domain": [4, 30], "nice": false, "zero": false}, "axis": null},
    "y": {"field": "v", "type": "quantitative", "scale": {"type": "log", "domain": [1e-12, 1], "nice": false}, "axis": null}
   }},
  {"data": {"values": [{"t":6.64,"v":0.0186},{"t":11.5,"v":2.2e-4},{"t":15.7,"v":4.5e-6},{"t":19.84,"v":9.1e-8},{"t":24.04,"v":1.8e-9},{"t":28.2,"v":3.4e-11}]},
   "mark": {"type": "point", "shape": "M-1,-1L1,1M-1,1L1,-1", "size": 30, "filled": false, "color": "black", "strokeWidth": 1, "opacity": 1},
   "encoding": {
    "x": {"field": "t", "type": "quantitative", "scale": {"domain": [4, 30], "nice": false, "zero": false}, "axis": null},
    "y": {"field": "v", "type": "quantitative", "scale": {"type": "log", "domain": [1e-12, 1], "nice": false}, "axis": null}
   }},
  {"data": {"values": [{"t": 18.1, "v": 0.079, "s": "delx = 0.01, delt = 0.009901, Ro = 1.0001Rb, RO = 4Rb"},{"t": 22.5, "v": 8.9e-5, "s": "Regression Slope = –0.937 / ln(10)"}]},
   "mark": {"type": "text"},
   "encoding": {
    "x": {"field": "t", "type": "quantitative", "scale": {"domain": [4, 30], "nice": false, "zero": false}, "axis": {"orient": "top", "values": [5,10,15,20,25,30], "labels": false, "title": null, "domain": false}},
    "y": {"field": "v", "type": "quantitative", "scale": {"type": "log", "domain": [1e-12, 1], "nice": false}, "axis": {"orient": "right", "values": [1e-12,1e-10,1e-8,1e-6,1e-4,1e-2,1], "labels": false, "title": null, "domain": false}},
    "text": {"field": "s"}
   }}
 ],
 "resolve": {"axis": {"x": "independent", "y": "independent"}}
}
]
}
